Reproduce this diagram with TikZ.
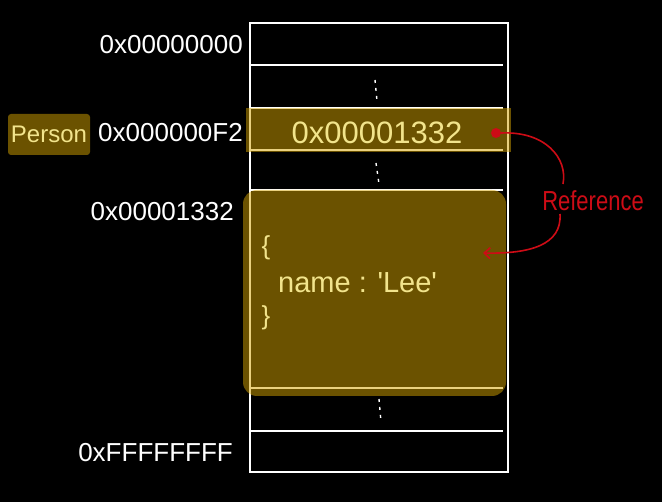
\documentclass[tikz,border=0pt]{standalone}
\usepackage{fontspec}
\setmainfont{Liberation Sans}
\usetikzlibrary{arrows.meta}
\definecolor{hl}{RGB}{214,164,0}
\definecolor{pale}{RGB}{242,228,140}
\definecolor{redink}{RGB}{205,12,22}
\begin{document}
\begin{tikzpicture}[x=1pt,y=-1pt,
  addr/.style={text=white, font=\fontsize{26}{28}\selectfont, anchor=east, inner sep=0pt},
  paletext/.style={text=pale, inner sep=0pt},
  rowline/.style={draw=white, line width=1.5pt},
  hlfill/.style={fill=hl, fill opacity=0.5},
  dots/.style={draw=white, line width=1.4pt, dash pattern=on 3pt off 5pt},
  redline/.style={draw=redink, line width=1.6pt}]
\fill[black] (0,0) rectangle (662,502);
\useasboundingbox (0,0) rectangle (662,502);
% memory table
\draw[rowline] (250,23) rectangle (508,472);
\foreach \y in {65,108,150,190,388,431}
  \draw[rowline] (250,\y) -- (503,\y);
% vertical ellipses
\draw[dots] (375,80) -- (377,101);
\draw[dots] (376,163) -- (379,184);
\draw[dots] (379,399) -- (381,422);
% highlights
\fill[hlfill] (246,108) rectangle (511,152);
\fill[hlfill, rounded corners=14pt] (243,190) rectangle (506,396);
\fill[hlfill, rounded corners=3pt] (8,114) rectangle (90,155);
% addresses
\node[addr] (a0) at (243,45) {0x00000000};
\node[addr] (a1) at (243,133) {0x000000F2};
\node[addr] (a2) at (234,212) {0x00001332};
\node[addr] (a3) at (233,453) {0xFFFFFFFF};
\node[paletext, font=\fontsize{24}{28}\selectfont] (person) at (49,134) {Person};
\node[paletext, font=\fontsize{31}{34}\selectfont] (val) at (377,133) {0x00001332};
% object
\node[paletext, font=\fontsize{26}{28}\selectfont] (lb) at (266,248) {\{};
\node[paletext, anchor=west, font=\fontsize{29}{32}\selectfont] (nm) at (278,283) {name : \textquotesingle Lee\textquotesingle};
\node[paletext, font=\fontsize{26}{28}\selectfont] (rb) at (266,318) {\}};
% reference arrow
\node[circle, fill=redink, inner sep=0pt, minimum size=10pt] (dot) at (496,133) {};
\node[text=redink, font=\fontsize{22}{26}\selectfont, inner sep=0pt, yscale=1.25] (ref) at (593,201) {Reference};
\coordinate (c1) at (563,184);
\coordinate (c2) at (560,214);
\coordinate (tgt) at (483,253);
\draw[redline] (dot.east) .. controls (545,131) and (568,158) .. (c1);
\draw[redline, -{Straight Barb[length=6pt,width=11pt]}] (c2) .. controls (562,245) and (530,254) .. (tgt);
\end{tikzpicture}
\end{document}
